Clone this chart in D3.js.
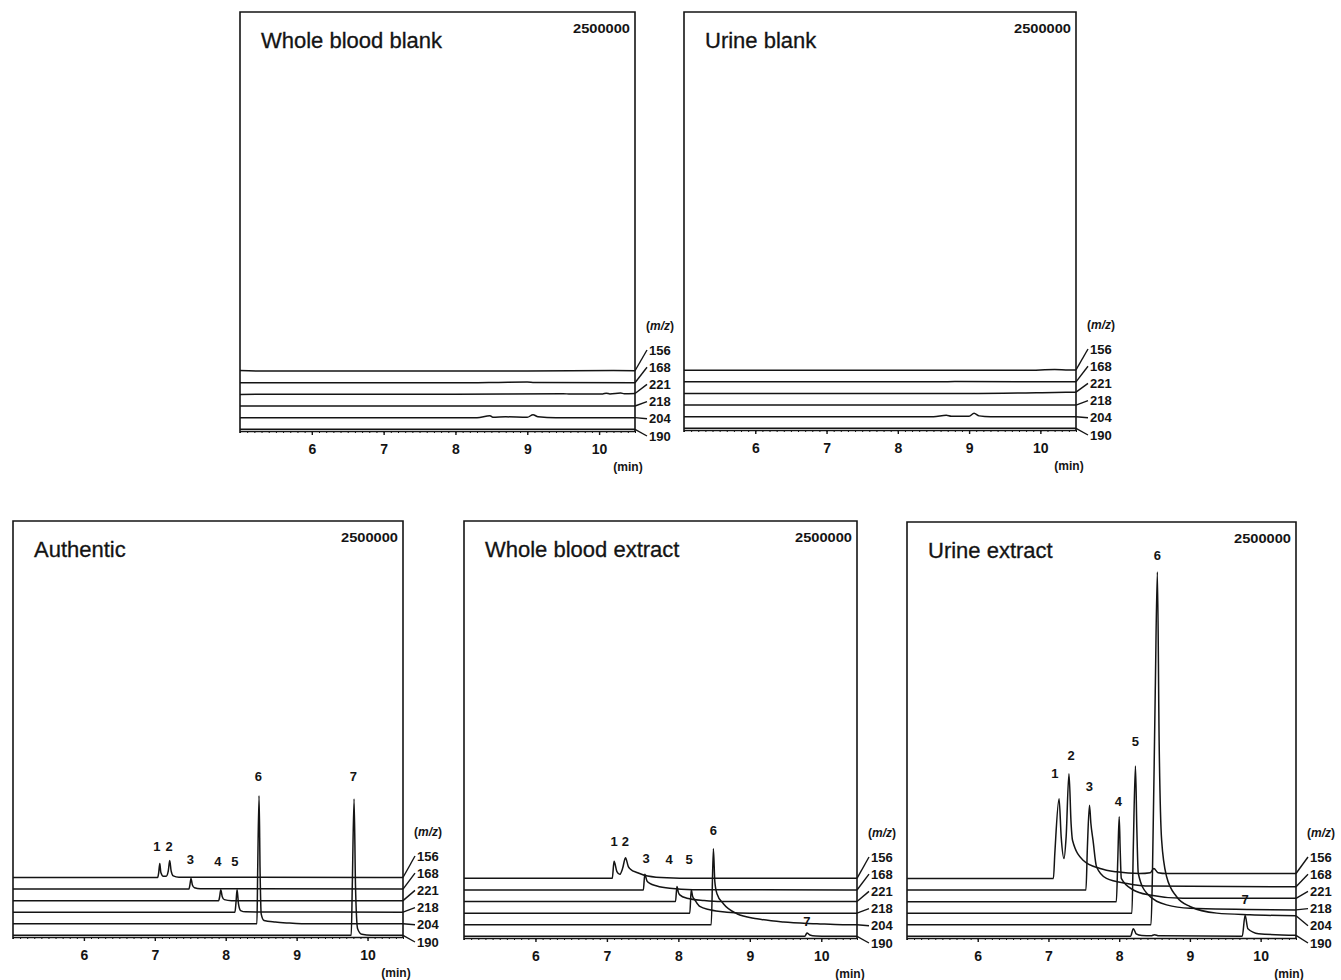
<!DOCTYPE html>
<html>
<head>
<meta charset="utf-8">
<script src="https://cdn.jsdelivr.net/npm/d3@7"></script>
<style>
    body { margin: 0; background: #fff; }
    svg { display: block; font-family: "Liberation Sans", Arial, sans-serif; }
</style>
</head>
<body>
<svg id="chart" width="1341" height="980"></svg>
<script>
// ---- data (time in min, intensity in counts above each trace's own baseline) ----
const xDomain = [5, 10.5];
const fullScale = 2500000;
const fullScaleLabel = '2500000';
const majorTicks = [6, 7, 8, 9, 10];
const mzValues = ['156', '168', '221', '218', '204', '190'];
const panelTitles = ['Whole blood blank', 'Urine blank', 'Authentic', 'Whole blood extract', 'Urine extract'];

// traces are listed in mzValues order (top trace first)
const wholeBloodBlank = [
    [[5, 3000], [5.4, 0], [6, 1000], [9, 1000], [10.2, 3000], [10.5, 2000]],
    [[5, 0], [8.2, 0], [8.6, 2000], [9.0, 4000], [9.1, 1000], [10.5, 0]],
    [[5, 0], [8, 1000], [9.5, 4000], [9.6, 2000], [10.05, 3000], [10.1, 7000], [10.15, 3000], [10.3, 8000], [10.35, 4000], [10.5, 5000]],
    [[5, 0], [10.5, 0]],
    [[5, 0], [8.3, 0], [8.48, 12000], [8.52, 3000], [8.7, 5000], [9.0, 2000], [9.08, 18000], [9.15, 5000], [9.4, 0], [10.5, 0]],
    [[5, 0], [10.5, 0]],
];
const urineBlank = [
    [[5, 0], [9.8, 0], [10.2, 4000], [10.4, 2000], [10.5, 2000]],
    [[5, 0], [8.6, 0], [8.8, 2000], [10.5, 0]],
    [[5, 0], [9, 0], [10.2, 6000], [10.5, 8000]],
    [[5, 0], [10.5, 0]],
    [[5, 0], [8.5, 0], [8.68, 9000], [8.75, 3000], [9.0, 2000], [9.07, 21000], [9.14, 5000], [9.3, 0], [10.5, 0]],
    [[5, 0], [10.5, 0]],
];
const authentic = [
    [[5, 0], [7.04, 0], [7.055, 30000], [7.07, 84000], [7.085, 30000], [7.12, 8000], [7.16, 8000], [7.19, 40000], [7.21, 102000], [7.23, 40000], [7.26, 10000], [7.34, 2000], [10.5, 0]],
    [[5, 0], [7.48, 0], [7.495, 25000], [7.51, 64000], [7.53, 25000], [7.56, 8000], [7.64, 2000], [10.5, 0]],
    [[5, 0], [7.90, 0], [7.915, 25000], [7.93, 66000], [7.95, 25000], [7.98, 6000], [8.08, 0], [10.5, 0]],
    [[5, 0], [8.13, 0], [8.145, 60000], [8.16, 136000], [8.18, 50000], [8.21, 10000], [8.28, 2000], [10.5, 0]],
    [[5, 0], [8.44, 0], [8.45, 300000], [8.47, 770000], [8.485, 300000], [8.50, 60000], [8.54, 20000], [8.7, 10000], [8.9, 4000], [9.1, 0], [10.5, 0]],
    [[5, 0], [9.77, 0], [9.785, 300000], [9.81, 820000], [9.83, 300000], [9.86, 40000], [9.92, 6000], [10.05, 0], [10.5, 0]],
];
const wholeBloodExtract = [
    [[5, 0], [7.075, 0], [7.10, 102000], [7.14, 40000], [7.18, 24000], [7.22, 60000], [7.26, 124000], [7.30, 70000], [7.33, 55000], [7.43, 34000], [7.57, 14000], [7.84, 3000], [8.2, 0], [10.5, 0]],
    [[5, 0], [7.51, 0], [7.53, 94000], [7.56, 55000], [7.60, 40000], [7.70, 24000], [7.88, 10000], [8.2, 2000], [10.5, 0]],
    [[5, 0], [7.96, 0], [7.98, 90000], [8.00, 55000], [8.02, 40000], [8.12, 20000], [8.36, 6000], [8.6, 0], [10.5, 0]],
    [[5, 0], [8.16, 0], [8.18, 140000], [8.20, 100000], [8.23, 80000], [8.30, 40000], [8.44, 20000], [8.68, 6000], [9.0, 0], [10.5, 0]],
    [[5, 0], [8.46, 0], [8.49, 456000], [8.51, 260000], [8.54, 186000], [8.63, 126000], [8.82, 66000], [9.10, 36000], [9.47, 16000], [9.94, 6000], [10.3, 0], [10.5, 0]],
    [[5, 0], [9.77, 0], [9.80, 20000], [9.84, 8000], [9.92, 2000], [10.1, 0], [10.5, 0]],
];
const urineExtract = [
    [[5, 0], [7.07, 0], [7.09, 150000], [7.15, 480000], [7.18, 250000], [7.22, 120000], [7.25, 250000], [7.29, 630000], [7.32, 330000], [7.34, 230000], [7.49, 110000], [7.73, 60000], [7.96, 40000], [8.29, 30000], [8.44, 35000], [8.49, 60000], [8.55, 35000], [8.67, 30000], [10.5, 30000]],
    [[5, 0], [7.53, 0], [7.55, 250000], [7.58, 510000], [7.60, 400000], [7.63, 300000], [7.68, 140000], [7.82, 70000], [8.11, 40000], [8.44, 24000], [10.5, 20000]],
    [[5, 0], [7.96, 0], [7.98, 250000], [8.00, 510000], [8.015, 300000], [8.03, 140000], [8.20, 70000], [8.43, 40000], [8.90, 20000], [10.5, 20000]],
    [[5, 0], [8.18, 0], [8.20, 400000], [8.23, 885000], [8.25, 500000], [8.27, 240000], [8.39, 120000], [8.67, 50000], [9.00, 30000], [10.5, 20000]],
    [[5, 0], [8.45, 0], [8.47, 300000], [8.51, 1400000], [8.54, 2120000], [8.565, 1100000], [8.60, 510000], [8.67, 290000], [8.81, 170000], [9.00, 110000], [9.38, 70000], [9.85, 60000], [10.5, 54000]],
    [[5, 0], [8.16, 0], [8.20, 46000], [8.24, 15000], [8.32, 5000], [8.45, 3000], [8.50, 10000], [8.56, 3000], [9.74, 0], [9.78, 126000], [9.82, 46000], [9.97, 16000], [10.5, 6000]],
];

// peak numbers: [label, time, intensity above axis]
const authenticPeaks = [['1', 7.03, 543000], ['2', 7.20, 543000], ['3', 7.50, 467000], ['4', 7.89, 453000], ['5', 8.13, 453000], ['6', 8.46, 968000], ['7', 9.80, 968000]];
const wholeBloodPeaks = [['1', 7.10, 582000], ['2', 7.26, 582000], ['3', 7.55, 478000], ['4', 7.87, 472000], ['5', 8.15, 472000], ['6', 8.49, 648000], ['7', 9.80, 102000]];
const urinePeaks = [['1', 7.09, 990000], ['2', 7.32, 1100000], ['3', 7.58, 909000], ['4', 7.99, 819000], ['5', 8.23, 1180000], ['6', 8.54, 2302000], ['7', 9.78, 233000]];

// ---- layout ----
const traceBase = 10000;
const traceStep = 69500;
const labelStep = 17.2;
const ink = '#141414';

const panels = [
    { title: panelTitles[0], traces: wholeBloodBlank, peaks: [], x0: 240, x1: 635, top: 12, axis: 431 },
    { title: panelTitles[1], traces: urineBlank, peaks: [], x0: 684, x1: 1076, top: 12, axis: 430 },
    { title: panelTitles[2], traces: authentic, peaks: authenticPeaks, x0: 13, x1: 403, top: 521, axis: 937 },
    { title: panelTitles[3], traces: wholeBloodExtract, peaks: wholeBloodPeaks, x0: 464, x1: 857, top: 521, axis: 938 },
    { title: panelTitles[4], traces: urineExtract, peaks: urinePeaks, x0: 907, x1: 1296, top: 522, axis: 938 },
];

const svg = d3.select('#chart');
panels.forEach((p) => drawPanel(p));

function drawPanel(p) {
    const g = svg.append('g');
    const x = d3.scaleLinear().domain(xDomain).range([p.x0, p.x1]);
    const y = d3.scaleLinear().domain([0, fullScale]).range([p.axis, p.top]);
    const n = p.traces.length;
    const offset = (i) => traceBase + (n - 1 - i) * traceStep;

    // frame (left, top, right); bottom is the time axis
    g.append('path')
        .attr('d', `M${p.x0},${p.axis + 2}V${p.top}H${p.x1}V${p.axis}`)
        .attr('fill', 'none')
        .attr('stroke', ink)
        .attr('stroke-width', 1.6);

    // minor ticks
    g.append('g')
        .attr('transform', `translate(0,${p.axis})`)
        .call(d3.axisBottom(x).ticks(55).tickSize(2).tickSizeOuter(0).tickFormat(''))
        .call((a) => a.select('.domain').remove())
        .call((a) => a.selectAll('line').attr('stroke', ink));

    // major ticks + axis line
    const axis = g.append('g')
        .attr('transform', `translate(0,${p.axis})`)
        .call(d3.axisBottom(x).tickValues(majorTicks).tickSize(4).tickSizeOuter(0).tickPadding(9).tickFormat(d3.format('d')));
    axis.select('.domain').attr('stroke', ink).attr('stroke-width', 1.6);
    axis.selectAll('line').attr('stroke', ink).attr('stroke-width', 1.4);
    axis.selectAll('text')
        .attr('fill', ink)
        .attr('font-family', '"Liberation Sans", Arial, sans-serif')
        .attr('font-size', 14)
        .attr('font-weight', 'bold');

    g.append('text')
        .attr('x', p.x1 - 7)
        .attr('y', p.axis + 40)
        .attr('text-anchor', 'middle')
        .attr('font-size', 12)
        .attr('font-weight', 'bold')
        .attr('fill', ink)
        .text('(min)');

    // titles
    g.append('text')
        .attr('x', p.x0 + 21)
        .attr('y', p.top + 36)
        .attr('font-size', 22)
        .attr('fill', ink)
        .attr('stroke', ink)
        .attr('stroke-width', 0.3)
        .text(p.title);

    g.append('text')
        .attr('x', p.x1 - 5)
        .attr('y', p.top + 21)
        .attr('text-anchor', 'end')
        .attr('font-size', 12)
        .attr('font-weight', 'bold')
        .attr('textLength', 57)
        .attr('lengthAdjust', 'spacingAndGlyphs')
        .attr('fill', ink)
        .text(fullScaleLabel);

    // traces
    const line = d3.line()
        .x((d) => x(d[0]))
        .y((d) => y(d[1]))
        .curve(d3.curveMonotoneX);

    g.append('g')
        .selectAll('path')
        .data(p.traces)
        .join('path')
        .attr('d', (d, i) => line(d.map((pt) => [pt[0], pt[1] + offset(i)])))
        .attr('fill', 'none')
        .attr('stroke', ink)
        .attr('stroke-width', 1.5)
        .attr('stroke-linejoin', 'round');

    // m/z connectors and labels
    const labelY = (i) => p.axis + 5 - (n - 1 - i) * labelStep;
    g.append('g')
        .selectAll('line')
        .data(p.traces)
        .join('line')
        .attr('x1', p.x1)
        .attr('y1', (d, i) => y(d[d.length - 1][1] + offset(i)))
        .attr('x2', p.x1 + 12)
        .attr('y2', (d, i) => labelY(i))
        .attr('stroke', ink)
        .attr('stroke-width', 1.4);

    g.append('g')
        .selectAll('text')
        .data(mzValues)
        .join('text')
        .attr('x', p.x1 + 14)
        .attr('y', (d, i) => labelY(i))
        .attr('dy', '0.36em')
        .attr('font-size', 13)
        .attr('font-weight', 'bold')
        .attr('fill', ink)
        .text((d) => d);

    const mz = g.append('text')
        .attr('x', p.x1 + 11)
        .attr('y', labelY(0) - 24)
        .attr('dy', '0.36em')
        .attr('font-size', 12)
        .attr('font-weight', 'bold')
        .attr('fill', ink);
    mz.append('tspan').text('(');
    mz.append('tspan').attr('font-style', 'italic').text('m/z');
    mz.append('tspan').text(')');

    // peak numbers
    g.append('g')
        .selectAll('text')
        .data(p.peaks)
        .join('text')
        .attr('x', (d) => x(d[1]))
        .attr('y', (d) => y(d[2]))
        .attr('dy', '0.36em')
        .attr('text-anchor', 'middle')
        .attr('font-size', 13)
        .attr('font-weight', 'bold')
        .attr('fill', ink)
        .text((d) => d[0]);
}
</script>
</body>
</html>
